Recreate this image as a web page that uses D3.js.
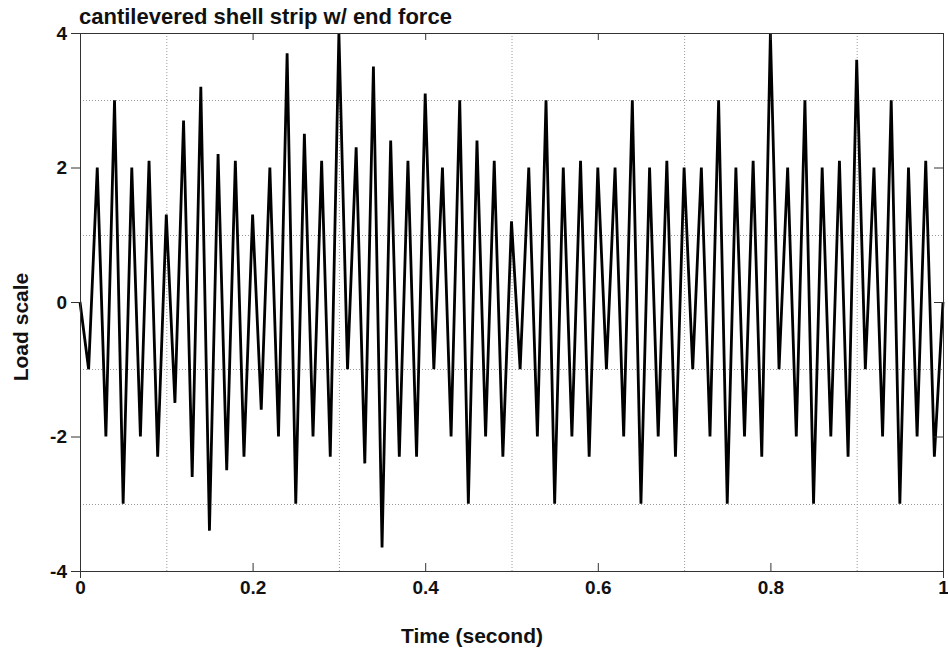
<!DOCTYPE html>
<html>
<head>
<meta charset="utf-8">
<script src="https://cdn.jsdelivr.net/npm/d3@7"></script>
<style>
  body { margin: 0; background: #fff; }
  svg text { font-family: "Liberation Sans", Arial, sans-serif; font-weight: bold; fill: #111; }
</style>
</head>
<body>
<div id="graph"></div>
<script>
// peaks / troughs of the response, every 0.01 s
const times = [0, 0.01, 0.02, 0.03, 0.04, 0.05, 0.06, 0.07, 0.08, 0.09,
  0.10, 0.11, 0.12, 0.13, 0.14, 0.15, 0.16, 0.17, 0.18, 0.19,
  0.20, 0.21, 0.22, 0.23, 0.24, 0.25, 0.26, 0.27, 0.28, 0.29,
  0.30, 0.31, 0.32, 0.33, 0.34, 0.35, 0.36, 0.37, 0.38, 0.39,
  0.40, 0.41, 0.42, 0.43, 0.44, 0.45, 0.46, 0.47, 0.48, 0.49,
  0.50, 0.51, 0.52, 0.53, 0.54, 0.55, 0.56, 0.57, 0.58, 0.59,
  0.60, 0.61, 0.62, 0.63, 0.64, 0.65, 0.66, 0.67, 0.68, 0.69,
  0.70, 0.71, 0.72, 0.73, 0.74, 0.75, 0.76, 0.77, 0.78, 0.79,
  0.80, 0.81, 0.82, 0.83, 0.84, 0.85, 0.86, 0.87, 0.88, 0.89,
  0.90, 0.91, 0.92, 0.93, 0.94, 0.95, 0.96, 0.97, 0.98, 0.99, 1.00]

const loadValues = [0, -1.0, 2.0, -2.0, 3.0, -3.0, 2.0, -2.0, 2.1, -2.3,
  1.3, -1.5, 2.7, -2.6, 3.2, -3.4, 2.2, -2.5, 2.1, -2.3,
  1.3, -1.6, 2.0, -2.0, 3.7, -3.0, 2.5, -2.0, 2.1, -2.3,
  4.0, -1.0, 2.3, -2.4, 3.5, -3.65, 2.4, -2.3, 2.1, -2.3,
  3.1, -1.0, 2.0, -2.0, 3.0, -3.0, 2.4, -2.0, 2.1, -2.3,
  1.2, -1.0, 2.0, -2.0, 3.0, -3.0, 2.0, -2.0, 2.1, -2.3,
  2.0, -1.0, 2.0, -2.0, 3.0, -3.0, 2.0, -2.0, 2.1, -2.3,
  2.0, -1.0, 2.0, -2.0, 3.0, -3.0, 2.0, -2.0, 2.1, -2.3,
  4.0, -1.0, 2.0, -2.0, 3.0, -3.0, 2.0, -2.0, 2.1, -2.3,
  3.6, -1.0, 2.0, -2.0, 3.0, -3.0, 2.0, -2.0, 2.1, -2.3, 0]

const xTickLabels = [0, 0.2, 0.4, 0.6, 0.8, 1]
const xGridValues = [0.1, 0.3, 0.5, 0.7, 0.9]
const yTickLabels = [-4, -2, 0, 2, 4]
const yGridValues = [-3, -1, 1, 3]

const graphSize = {
  width: 948,
  height: 652,
  left: 80,
  right: 943,
  top: 33,
  bottom: 571,
}

const svg = d3.select('#graph')
.append('svg')
.attr('width', graphSize.width)
.attr('height', graphSize.height)

const xScale = d3.scaleLinear().domain([0, 1]).range([graphSize.left, graphSize.right])
const yScale = d3.scaleLinear().domain([-4, 4]).range([graphSize.bottom, graphSize.top])

// plain hyphen minus like the original, not the unicode one d3.format gives
const plainNumber = d => String(d)

// dotted grid, only on the odd tenths / odd units
svg.append('g')
.selectAll('line')
.data(xGridValues)
.enter()
.append('line')
.attr('x1', d => xScale(d) + 0.5)
.attr('x2', d => xScale(d) + 0.5)
.attr('y1', graphSize.top)
.attr('y2', graphSize.bottom)
.attr('stroke', '#9a9a9a')
.attr('stroke-dasharray', '1,2')

svg.append('g')
.selectAll('line')
.data(yGridValues)
.enter()
.append('line')
.attr('x1', graphSize.left)
.attr('x2', graphSize.right)
.attr('y1', d => Math.round(yScale(d)) + 0.5)
.attr('y2', d => Math.round(yScale(d)) + 0.5)
.attr('stroke', '#9a9a9a')
.attr('stroke-dasharray', '1,2')

// the signal
const line = d3.line()
.x((d, i) => xScale(times[i]))
.y(d => yScale(d))

svg.append('path')
.datum(loadValues)
.attr('d', line)
.attr('fill', 'none')
.attr('stroke', '#000')
.attr('stroke-width', 2.8)
.attr('stroke-linejoin', 'bevel')

// frame + ticks with the d3 axes
const innerX = xTickLabels.filter(d => d > 0 && d < 1)

svg.append('g')
.attr('transform', `translate(0,${graphSize.bottom})`)
.call(d3.axisBottom(xScale).tickValues(xTickLabels).tickSize(0).tickPadding(10).tickFormat(plainNumber))
.call(g => g.select('.domain').remove())
.call(g => g.selectAll('text').attr('font-size', 19).attr('font-family', null))

svg.append('g')
.attr('transform', `translate(0,${graphSize.bottom})`)
.call(d3.axisTop(xScale).tickValues(innerX).tickSize(8).tickFormat(''))
.call(g => g.select('.domain').remove())

svg.append('g')
.attr('transform', `translate(0,${graphSize.top})`)
.call(d3.axisBottom(xScale).tickValues(innerX).tickSize(7).tickFormat(''))
.call(g => g.select('.domain').remove())

svg.append('g')
.attr('transform', `translate(${graphSize.left},0)`)
.call(d3.axisLeft(yScale).tickValues(yTickLabels).tickSize(9).tickPadding(4).tickFormat(plainNumber))
.call(g => g.select('.domain').remove())
.call(g => g.selectAll('text').attr('font-size', 19).attr('font-family', null))

svg.append('g')
.attr('transform', `translate(${graphSize.right},0)`)
.call(d3.axisLeft(yScale).tickValues(yTickLabels.filter(d => d > -4 && d < 4)).tickSize(-9).tickFormat(''))
.call(g => g.select('.domain').remove())
.call(g => g.selectAll('line').attr('x2', -9))

svg.selectAll('.tick line').attr('stroke', '#333')

svg.append('rect')
.attr('x', graphSize.left + 0.5)
.attr('y', graphSize.top + 0.5)
.attr('width', graphSize.right - graphSize.left)
.attr('height', graphSize.bottom - graphSize.top)
.attr('fill', 'none')
.attr('stroke', '#333')

// small stubs of the side lines below the frame
svg.append('g')
.selectAll('line')
.data([0, 1])
.enter()
.append('line')
.attr('x1', d => xScale(d) + 0.5)
.attr('x2', d => xScale(d) + 0.5)
.attr('y1', graphSize.bottom)
.attr('y2', graphSize.bottom + 7)
.attr('stroke', '#333')

// titles
svg.append('text')
.attr('x', graphSize.left - 1)
.attr('y', 24)
.attr('font-size', 22)
.text('cantilevered shell strip w/ end force')

svg.append('text')
.attr('x', 472)
.attr('y', 643)
.attr('text-anchor', 'middle')
.attr('font-size', 21)
.text('Time (second)')

svg.append('text')
.attr('transform', 'translate(28,327) rotate(-90)')
.attr('text-anchor', 'middle')
.attr('font-size', 21)
.text('Load scale')
</script>
</body>
</html>
